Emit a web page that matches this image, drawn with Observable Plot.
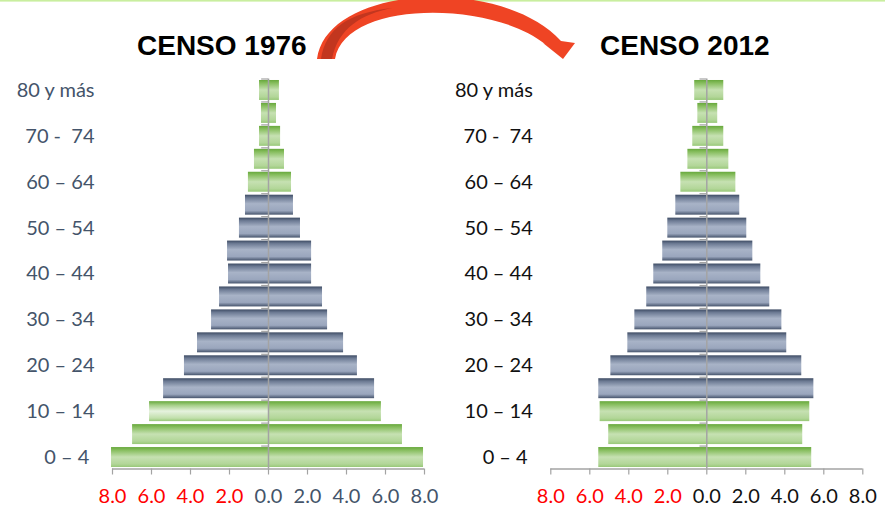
<!DOCTYPE html>
<html>
<head>
<meta charset="utf-8">
<script src="https://cdn.jsdelivr.net/npm/d3@7"></script>
<script src="https://cdn.jsdelivr.net/npm/@observablehq/plot@0.6"></script>
<style>
  html, body { margin: 0; padding: 0; background: #fff; }
  #wrap { position: relative; width: 885px; height: 512px; overflow: hidden; background: #fff; }
  #left, #right { position: absolute; top: 0; }
  #left { left: 0; }
  #right { left: 440px; }
  #overlay { position: absolute; left: 0; top: 0; pointer-events: none; }
</style>
</head>
<body>
<svg width="0" height="0" style="position:absolute">
  <defs>
    <linearGradient id="gGreen" x1="0" y1="0" x2="0" y2="1">
      <stop offset="0" stop-color="#67a83c"/>
      <stop offset="0.15" stop-color="#86bd5d"/>
      <stop offset="0.5" stop-color="#c6e1b2"/>
      <stop offset="0.85" stop-color="#b2d698"/>
      <stop offset="1" stop-color="#98c878"/>
    </linearGradient>
    <linearGradient id="gGreenHi" x1="0" y1="0" x2="0" y2="1">
      <stop offset="0" stop-color="#67a83c"/>
      <stop offset="0.2" stop-color="#a5cf88"/>
      <stop offset="0.5" stop-color="#e6f2de"/>
      <stop offset="0.85" stop-color="#c1dfab"/>
      <stop offset="1" stop-color="#98c878"/>
    </linearGradient>
    <linearGradient id="gGray" x1="0" y1="0" x2="0" y2="1">
      <stop offset="0" stop-color="#3e4c64"/>
      <stop offset="0.15" stop-color="#6c7a93"/>
      <stop offset="0.45" stop-color="#a8b3c7"/>
      <stop offset="0.8" stop-color="#9aa6bd"/>
      <stop offset="1" stop-color="#46546c"/>
    </linearGradient>
  </defs>
</svg>
<div id="wrap">
  <div id="left"></div>
  <div id="right"></div>
  <svg id="overlay" width="885" height="512">
    <rect x="0" y="0" width="885" height="1.6" fill="#c9ee9f"></rect>
    <path d="M317,59 C327,-15 500,-25 561,41 L575,43 L563,59 L543,43 L545,44 C490,0 345,0 335,59 Z" fill="#ef4424"></path>
    <path d="M321,59 C326,28 348,13 392,8 C362,14 338,28 332,59 Z" fill="#c2361f"></path>
    <text x="137" y="55" font-family="Liberation Sans, Arial, sans-serif" font-weight="bold" font-size="28" fill="#000">CENSO 1976</text>
    <text x="600" y="55" font-family="Liberation Sans, Arial, sans-serif" font-weight="bold" font-size="28" fill="#000">CENSO 2012</text>
  </svg>
</div>
<script>
// Age groups, top to bottom
const ages = ["80 y más","75 – 79","70 – 74","65 – 69","60 – 64","55 – 59","50 – 54","45 – 49","40 – 44","35 – 39","30 – 34","25 – 29","20 – 24","15 – 19","10 – 14","5 – 9","0 – 4"];
// Tick labels shown on the y axis (every other group)
const yTickKeys = ["80 y más","70 – 74","60 – 64","50 – 54","40 – 44","30 – 34","20 – 24","10 – 14","0 – 4"];
const yTickLabels = ["80 y más","70 -\u00a0 74","60 – 64","50 – 54","40 – 44","30 – 34","20 – 24","10 – 14","0 – 4\u00a0"];
// x tick values
const xTicksNeg = [-8, -6, -4, -2];
const xTicksPos = [0, 2, 4, 6, 8];

// Percentages, same order as ages
const left1976  = [0.46,0.36,0.46,0.72,1.03,1.18,1.49,2.10,2.05,2.51,2.92,3.64,4.31,5.38,6.10,6.97,8.05];
const right1976 = [0.56,0.41,0.62,0.82,1.18,1.28,1.64,2.21,2.21,2.77,3.03,3.85,4.56,5.44,5.79,6.87,7.95];
const left2012  = [0.62,0.46,0.72,0.97,1.33,1.59,2.00,2.26,2.72,3.08,3.69,4.05,4.92,5.54,5.47,5.03,5.54];
const right2012 = [0.87,0.56,0.87,1.13,1.49,1.69,2.05,2.36,2.77,3.23,3.85,4.10,4.87,5.49,5.28,4.92,5.38];
// Groups drawn in green (others slate)
const greenGroups = ["80 y más","75 – 79","70 – 74","65 – 69","60 – 64","10 – 14","5 – 9","0 – 4"];

function pyramid({left, right, textColor, marginLeft, width, highlight}) {
  const height = 512, marginTop = 78.5, marginBottom = 43.5;
  const step = (height - marginTop - marginBottom) / ages.length;
  const rows = ages.map((age, i) => ({age, left: left[i], right: right[i], green: greenGroups.includes(age)}));
  const fillFor = (d, side) => {
    if (!d.green) return "url(#gGray)";
    if (highlight && highlight.age === d.age && highlight.side === side) return "url(#gGreenHi)";
    return "url(#gGreen)";
  };
  const marks = [];
  for (const side of ["left", "right"]) {
    for (const f of ["url(#gGray)", "url(#gGreen)", "url(#gGreenHi)"]) {
      const sub = rows.filter(d => fillFor(d, side) === f);
      if (!sub.length) continue;
      marks.push(Plot.barX(sub, {
        y: "age",
        x1: 0,
        x2: d => side === "left" ? -d.left : d.right,
        fill: f
      }));
    }
  }
  marks.push(
    Plot.ruleX([0], {stroke: "#a3a3a3", strokeWidth: 1.5}),
    Plot.ruleY(ages, {y: d => d, x1: -0.35, x2: 0, dy: -step / 2, stroke: "#a3a3a3", strokeWidth: 1.2}),
    Plot.ruleY(["0 – 4"], {y: d => d, x1: -8, x2: 8, dy: step / 2, stroke: "#a3a3a3", strokeWidth: 1.5}),
    Plot.axisX({ticks: [...xTicksNeg, ...xTicksPos], tickSize: 6, tickFormat: () => "", stroke: "#a3a3a3", strokeWidth: 1.2, label: null}),
    Plot.axisX({ticks: xTicksNeg, tickSize: 0, tickPadding: 20, tickFormat: d => Math.abs(d).toFixed(1), fill: "#ff0000", label: null}),
    Plot.axisX({ticks: xTicksPos, tickSize: 0, tickPadding: 20, tickFormat: d => d.toFixed(1), fill: textColor, label: null}),
    Plot.axisY({ticks: yTickKeys, tickSize: 0, tickPadding: 18, tickFormat: d => yTickLabels[yTickKeys.indexOf(d)], fill: textColor, label: null})
  );
  return Plot.plot({
    width, height, marginLeft, marginRight: width - marginLeft - 312, marginTop, marginBottom,
    x: {domain: [-8, 8]},
    y: {domain: ages, paddingInner: 0.13, paddingOuter: 0.065, round: false},
    style: {fontFamily: "Lato, 'Open Sans', sans-serif", fontSize: "20px", background: "transparent", overflow: "visible"},
    marks
  });
}

document.getElementById("left").appendChild(pyramid({
  left: left1976, right: right1976, textColor: "#44546a", marginLeft: 112, width: 440,
  highlight: {age: "10 – 14", side: "left"}
}));
document.getElementById("right").appendChild(pyramid({
  left: left2012, right: right2012, textColor: "#111111", marginLeft: 110.3, width: 445
}));
</script>
</body>
</html>
